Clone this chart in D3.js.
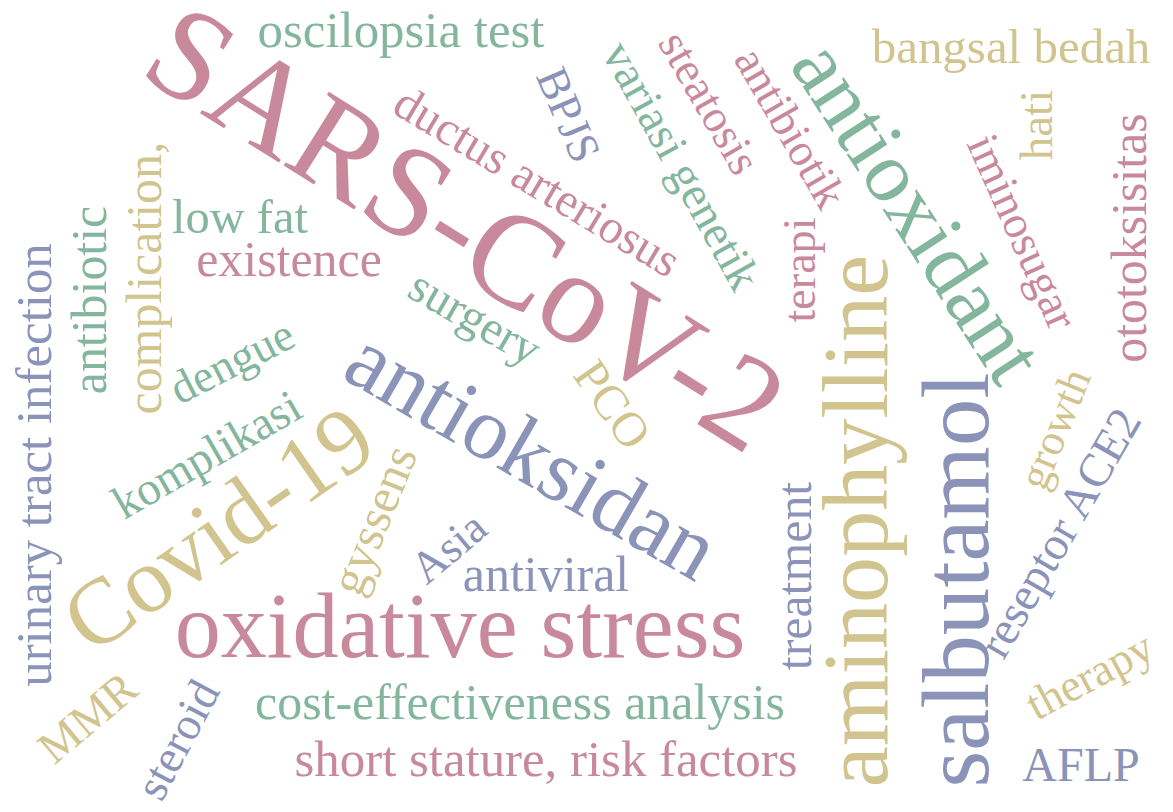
<!DOCTYPE html>
<html>
<head>
<meta charset="utf-8">
<script src="https://cdn.jsdelivr.net/npm/d3@7"></script>
<style>
  html, body { margin: 0; padding: 0; background: #ffffff; }
  svg { display: block; }
</style>
</head>
<body>
<svg id="chart"></svg>
<script>
// ---- data: words, their relative weights and colour groups ----
const words = [
  "SARS-CoV-2", "oscilopsia test", "BPJS", "ductus arteriosus", "variasi genetik",
  "steatosis", "antibiotik", "antioxidant", "bangsal bedah", "hati",
  "iminosugar", "ototoksisitas", "terapi", "aminophylline", "salbutamol",
  "treatment", "reseptor ACE2", "growth", "therapy", "AFLP",
  "cost-effectiveness analysis", "short stature, risk factors", "oxidative stress", "antiviral", "Asia",
  "gyssens", "Covid-19", "komplikasi", "dengue", "antioksidan",
  "low fat", "existence", "surgery", "PCO", "urinary tract infection",
  "antibiotic", "complication,", "MMR", "steroid"
];
const weights = [
  2.75, 1.06, 0.94, 1.0, 0.98,
  0.96, 0.96, 1.79, 1.02, 0.98,
  0.96, 1.04, 0.96, 1.92, 1.97,
  1.04, 0.98, 0.92, 0.95, 1.0,
  1.04, 1.06, 1.92, 1.04, 0.94,
  1.04, 1.95, 0.98, 0.96, 1.86,
  1.01, 1.04, 1.0, 1.02, 1.06,
  1.04, 1.04, 0.96, 0.97
];
const groups = [
  "pink", "green", "blue", "pink", "green",
  "pink", "pink", "green", "khaki", "khaki",
  "pink", "pink", "pink", "khaki", "blue",
  "blue", "blue", "khaki", "khaki", "blue",
  "green", "pink", "pink", "blue", "blue",
  "khaki", "khaki", "green", "green", "blue",
  "green", "pink", "green", "khaki", "blue",
  "green", "khaki", "khaki", "blue"
];

// ---- layout (word-cloud placement in layout units, and rotation in degrees) ----
const layoutX = [
  465, 401, 568, 537, 681,
  709, 790, 917, 1011, 1037,
  1022, 1130, 800, 857, 958,
  795, 1060, 1055, 1090, 1081,
  520, 546, 460, 546, 449,
  374, 219, 207, 232, 532,
  240, 289, 475, 612, 35,
  90, 145, 88, 178
];
const layoutY = [
  229, 31, 115, 182, 166,
  103, 128, 212, 47, 125,
  232, 238, 270, 521, 580,
  576, 533, 429, 676, 766,
  703, 760, 627, 575, 548,
  520, 530, 455, 362, 455,
  217, 260, 318, 405, 465,
  300, 278, 718, 740
];
const angles = [
  32, 0, 67, 31, 61,
  60, 60, 57, 0, -90,
  66, -90, -90, -90, -90,
  -90, -60, -68, -28, 0,
  0, 0, 0, 0, -40,
  -68, -35, -30, -27, 30,
  0, 0, 30, 55, -90,
  -90, -90, -40, -62
];

const W = 1173, H = 812;
const palette = { pink: "#c8899d", green: "#84b59d", blue: "#8b93b9", khaki: "#d1c48f" };

const svg = d3.select("#chart").attr("width", W).attr("height", H);
svg.append("rect").attr("width", W).attr("height", H).attr("fill", "#ffffff");

const x = d3.scaleLinear().domain([0, 1173]).range([0, W]);
const y = d3.scaleLinear().domain([0, 812]).range([0, H]);
const size = d3.scaleLinear().domain([0, 1]).range([0, 48]);
const color = d3.scaleOrdinal().domain(Object.keys(palette)).range(Object.values(palette));

const data = words.map((w, i) => ({
  text: w, weight: weights[i], group: groups[i],
  lx: layoutX[i], ly: layoutY[i], rot: angles[i]
}));

svg.append("g")
  .selectAll("text")
  .data(data)
  .join("text")
  .attr("transform", d => `translate(${x(d.lx)},${y(d.ly)}) rotate(${d.rot})`)
  .attr("text-anchor", "middle")
  .attr("dy", "0.32em")
  .style("font-family", "'Liberation Serif', 'Times New Roman', serif")
  .style("font-size", d => size(d.weight) + "px")
  .attr("fill", d => color(d.group))
  .text(d => d.text);
</script>
</body>
</html>
